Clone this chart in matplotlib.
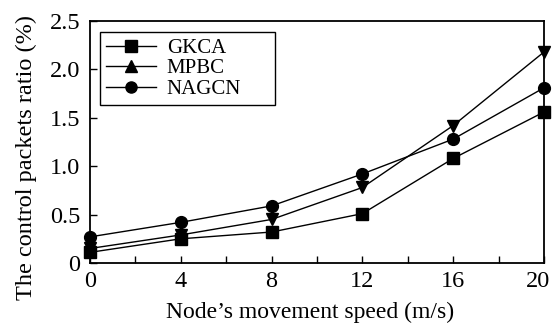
import numpy as np
import matplotlib.pyplot as plt
import matplotlib.transforms as mtransforms
from matplotlib.lines import Line2D

plt.rcParams['font.family'] = ['Liberation Serif', 'DejaVu Serif']

# Data
speed = [0, 4, 8, 12, 16, 20]
gkca = [0.11, 0.25, 0.32, 0.51, 1.08, 1.56]
mpbc = [0.15, 0.29, 0.45, 0.78, 1.42, 2.18]
nagcn = [0.27, 0.42, 0.59, 0.92, 1.28, 1.81]

fig = plt.figure(figsize=(5.53, 3.25), dpi=100)
ax = fig.add_axes([90 / 553, 1 - 263 / 325, 454 / 553, 242 / 325])

ax.plot(speed, gkca, 'k-s', lw=1, ms=8, clip_on=False, zorder=3)
ax.plot(speed, mpbc, 'k-v', lw=1, ms=9, clip_on=False, zorder=3)
ax.plot(speed, nagcn, 'k-o', lw=1, ms=8.5, clip_on=False, zorder=3)

ax.set_xlim(0, 20)
ax.set_ylim(0, 2.5)
ax.set_xticks([0, 4, 8, 12, 16, 20])
ax.set_xticks([2, 6, 10, 14, 18], minor=True)
ax.set_yticks([0, 0.5, 1.0, 1.5, 2.0, 2.5])
ax.set_yticklabels(['0', '0.5', '1.0', '1.5', '2.0', '2.5'])
ax.tick_params(which='both', direction='in', length=5, width=1, labelsize=17.5,
               top=False, right=False)
ax.tick_params(axis='y', pad=7)
ax.tick_params(axis='x', pad=6)
for s in ax.spines.values():
    s.set_linewidth(1.3)

# last x label sits slightly inside the figure edge
last = ax.get_xticklabels()[-1]
last.set_horizontalalignment('right')
last.set_transform(last.get_transform() +
                   mtransforms.ScaledTranslation(6 / 100, 0, fig.dpi_scale_trans))

ax.set_xlabel("Node\u2019s movement speed (m/s)", fontsize=17, va='center')
ax.xaxis.set_label_coords(0.485, -0.205)
ax.set_ylabel('The control packets ratio (%)', fontsize=17.5, va='center')
ax.yaxis.set_label_coords(-0.141, 0.434)

handles = [
    Line2D([], [], color='k', lw=1, marker='s', ms=8),
    Line2D([], [], color='k', lw=1, marker='^', ms=8),
    Line2D([], [], color='k', lw=1, marker='o', ms=8),
]
leg = ax.legend(handles, ['GKCA', 'MPBC', 'NAGCN'], loc='upper left',
                bbox_to_anchor=(10 / 454, (263 - 104) / 242, 175 / 454, 72 / 242),
                mode='expand', borderaxespad=0, fontsize=15,
                fancybox=False, edgecolor='k', framealpha=1, handlelength=2.4,
                borderpad=0.3, labelspacing=0.05, handletextpad=0.5)
leg.get_frame().set_linewidth(1)

fig.savefig('out.png', dpi=100)
